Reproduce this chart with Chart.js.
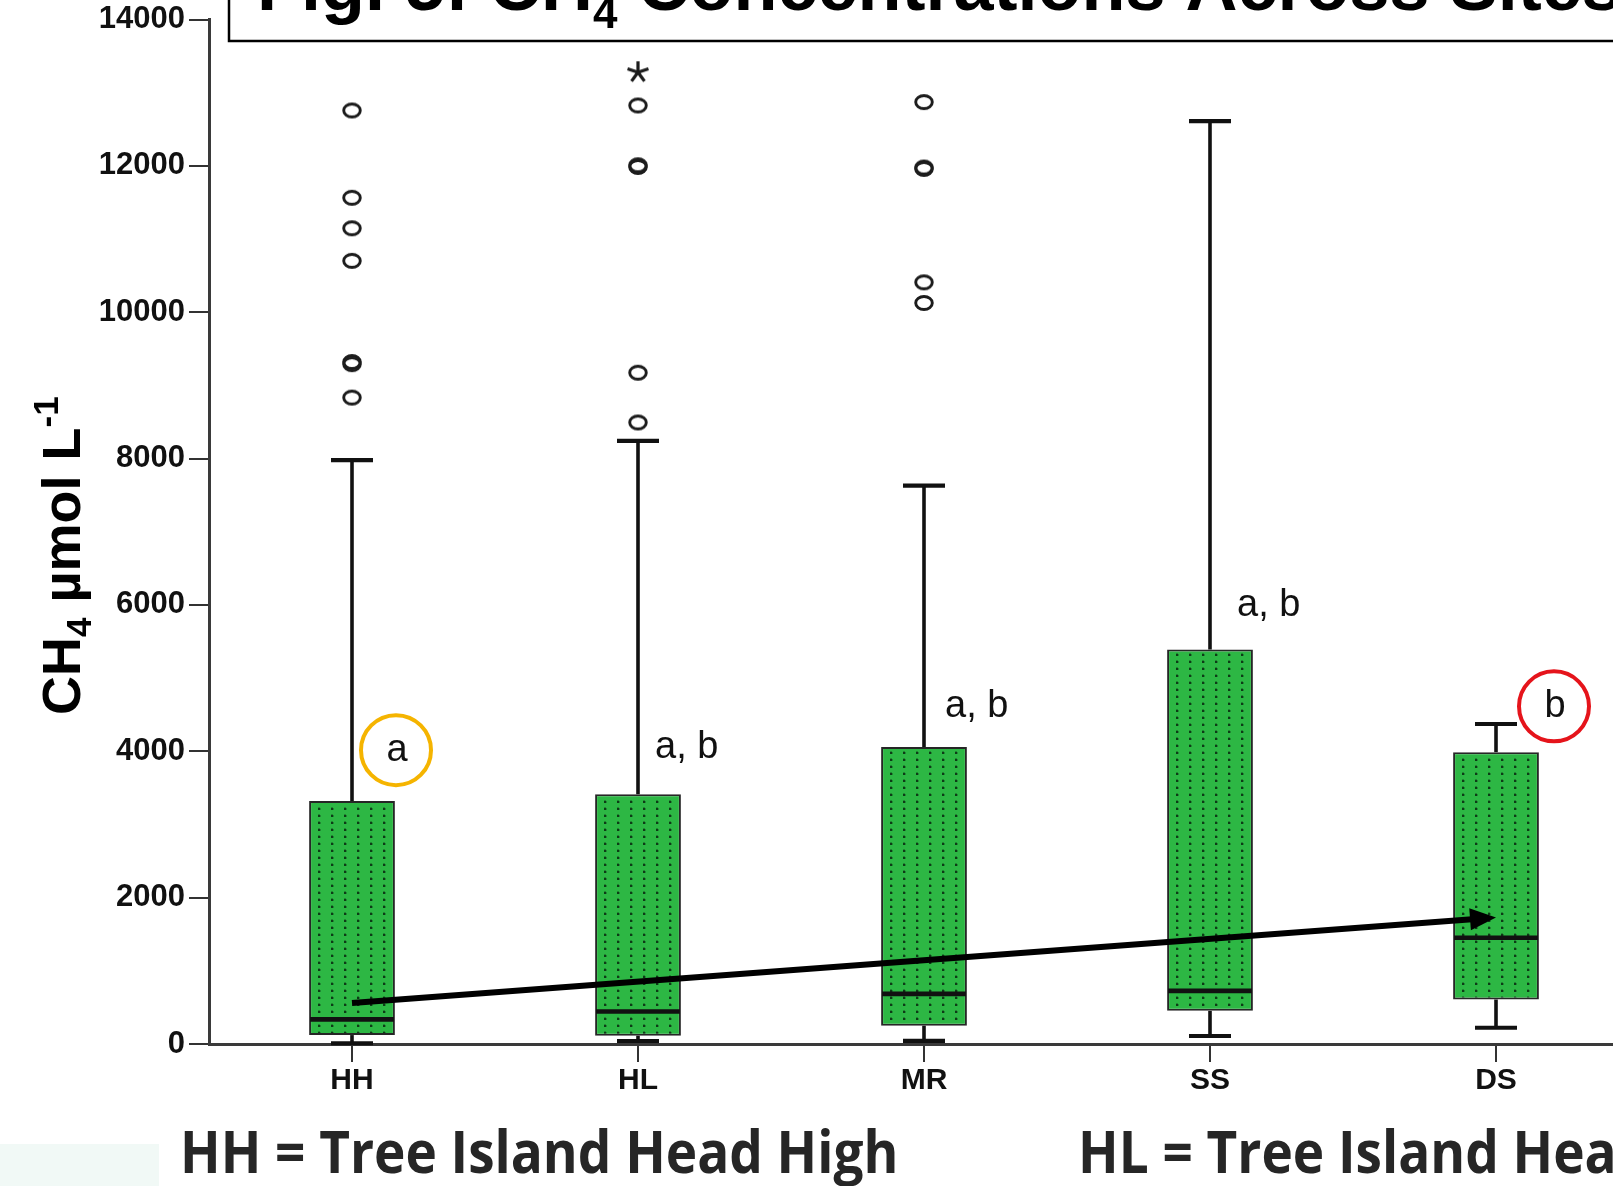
<!DOCTYPE html>
<html>
<head>
<meta charset="utf-8">
<script src="https://cdn.jsdelivr.net/npm/chart.js@4.4.1/dist/chart.umd.min.js"></script>
<style>
  html, body { margin: 0; padding: 0; background: #fff; overflow: hidden; width: 1613px; height: 1186px; }
  #wrap { position: relative; width: 1613px; height: 1186px; overflow: hidden; }
  #c { position: absolute; left: 0; top: 0; }
</style>
</head>
<body>
<div id="wrap"><canvas id="c" width="1661" height="1186"></canvas></div>
<script>
// CH4 concentration (µmol L-1) by site: box-plot summaries
const sites = ['HH', 'HL', 'MR', 'SS', 'DS'];
const whiskerLow  = [10, 41, 42, 109, 222];
const q1          = [122, 113, 250, 453, 608];
const median      = [336, 445, 685, 726, 1452];
const q3          = [3321, 3412, 4060, 5390, 3988];
const whiskerHigh = [7980, 8243, 7631, 12612, 4373];
// points beyond the whiskers (open circles) and extreme values (asterisk)
const outliers = [
  [12757, 11564, 11147, 10702, 9319, 9290, 8833],
  [12825, 12008, 11985, 9173, 8493],
  [12871, 11977, 11958, 10408, 10126],
  [],
  []
];
const extremes = [[], [13279], [], [], []];
const yTicks = [0, 2000, 4000, 6000, 8000, 10000, 12000, 14000];
// significance groups and the level they sit at
const groupLetters = ['a', 'a, b', 'a, b', 'a, b', 'b'];
const groupLetterAt = [4015, 4056, 4614, 5988, 4614];
// trend arrow from HH to DS
const trendStart = 560;
const trendEnd = 1730;

const FONT = "'Liberation Sans', Arial, sans-serif";
const canvas = document.getElementById('c');
const mainCtx = canvas.getContext('2d');

function dottedGreen() {
  const p = document.createElement('canvas');
  p.width = 13; p.height = 7;
  const g = p.getContext('2d');
  g.fillStyle = '#2db744';
  g.fillRect(0, 0, 13, 7);
  g.fillStyle = 'rgba(12,52,20,0.95)';
  g.fillRect(6, 3, 2, 2);
  g.fillStyle = 'rgba(12,52,20,0.35)';
  g.fillRect(6, 2, 2, 1);
  g.fillRect(8, 3, 1, 2);
  return mainCtx.createPattern(p, 'repeat');
}

function ringMarker() {
  const c = document.createElement('canvas');
  c.width = 24; c.height = 20;
  const g = c.getContext('2d');
  g.strokeStyle = '#1c1c1c';
  g.lineWidth = 2.9;
  g.beginPath();
  g.ellipse(12, 10, 8.3, 6.5, 0, 0, Math.PI * 2);
  g.stroke();
  return c;
}

function asteriskMarker() {
  const c = document.createElement('canvas');
  c.width = 26; c.height = 26;
  const g = c.getContext('2d');
  g.strokeStyle = '#1c1c1c';
  g.lineWidth = 3.2;
  g.lineCap = 'butt';
  for (let k = 0; k < 5; k++) {
    const a = -Math.PI / 2 + k * 2 * Math.PI / 5;
    g.beginPath();
    g.moveTo(13, 13);
    g.lineTo(13 + Math.cos(a) * 11, 13 + Math.sin(a) * 11);
    g.stroke();
  }
  return c;
}

const outlierPoints = [];
outliers.forEach((vals, i) => vals.forEach(v => outlierPoints.push({ x: sites[i], y: v })));
const extremePoints = [];
extremes.forEach((vals, i) => vals.forEach(v => extremePoints.push({ x: sites[i], y: v })));

function seg(ctx, x0, y0, x1, y1) {
  ctx.beginPath();
  ctx.moveTo(x0, y0);
  ctx.lineTo(x1, y1);
  ctx.stroke();
}

const backdrop = {
  id: 'backdrop',
  beforeDraw(chart) {
    const ctx = chart.ctx;
    ctx.save();
    ctx.fillStyle = '#ffffff';
    ctx.fillRect(0, 0, chart.width, chart.height);
    ctx.fillStyle = '#f1f9f6';
    ctx.fillRect(0, 1144, 159, 42);
    ctx.restore();
  }
};

const whiskers = {
  id: 'whiskers',
  afterDatasetsDraw(chart) {
    const { ctx, scales: { y } } = chart;
    const meta = chart.getDatasetMeta(0);
    ctx.save();
    ctx.strokeStyle = '#111';
    sites.forEach((s, i) => {
      const bar = meta.data[i];
      const cx = bar.x;
      const half = bar.width / 2;
      const cap = 21;
      ctx.lineWidth = 3.6;
      seg(ctx, cx, y.getPixelForValue(q3[i]), cx, y.getPixelForValue(whiskerHigh[i]));
      seg(ctx, cx, y.getPixelForValue(q1[i]), cx, y.getPixelForValue(whiskerLow[i]));
      ctx.lineWidth = 4.2;
      seg(ctx, cx - cap, y.getPixelForValue(whiskerHigh[i]), cx + cap, y.getPixelForValue(whiskerHigh[i]));
      seg(ctx, cx - cap, y.getPixelForValue(whiskerLow[i]), cx + cap, y.getPixelForValue(whiskerLow[i]));
      ctx.lineWidth = 4.6;
      seg(ctx, cx - half + 1, y.getPixelForValue(median[i]), cx + half - 1, y.getPixelForValue(median[i]));
    });
    ctx.restore();
  }
};

const annotations = {
  id: 'annotations',
  afterDraw(chart) {
    const { ctx, scales: { x, y } } = chart;
    ctx.save();

    // significance letters
    ctx.fillStyle = '#111';
    ctx.font = '38px ' + FONT;
    ctx.textBaseline = 'middle';
    const offsets = [45, 17, 21, 27, 59];
    groupLetters.forEach((txt, i) => {
      const cx = x.getPixelForValue(i);
      const cy = y.getPixelForValue(groupLetterAt[i]);
      if (i === 0 || i === sites.length - 1) {
        ctx.textAlign = 'center';
        ctx.fillText(txt, cx + offsets[i], cy);
        ctx.lineWidth = 4;
        ctx.strokeStyle = i === 0 ? '#f5b400' : '#e5141b';
        ctx.beginPath();
        ctx.arc(cx + offsets[i] - 1, cy, 35, 0, Math.PI * 2);
        ctx.stroke();
      } else {
        ctx.textAlign = 'left';
        ctx.fillText(txt, cx + offsets[i], cy);
      }
    });

    // trend arrow
    const x0 = x.getPixelForValue(0), y0 = y.getPixelForValue(trendStart);
    const x1 = x.getPixelForValue(sites.length - 1), y1 = y.getPixelForValue(trendEnd);
    const ang = Math.atan2(y1 - y0, x1 - x0);
    const headLen = 26, headHalf = 11;
    const bx = x1 - Math.cos(ang) * headLen, by = y1 - Math.sin(ang) * headLen;
    ctx.strokeStyle = '#000';
    ctx.lineWidth = 6;
    seg(ctx, x0, y0, bx + Math.cos(ang) * 2, by + Math.sin(ang) * 2);
    ctx.fillStyle = '#000';
    ctx.beginPath();
    ctx.moveTo(x1, y1);
    ctx.lineTo(bx - Math.sin(ang) * headHalf, by + Math.cos(ang) * headHalf);
    ctx.lineTo(bx + Math.sin(ang) * headHalf, by - Math.cos(ang) * headHalf);
    ctx.closePath();
    ctx.fill();

    // figure title in its frame
    ctx.lineWidth = 2.5;
    ctx.strokeStyle = '#000';
    ctx.strokeRect(229, -20, 1500, 61);
    ctx.fillStyle = '#000';
    ctx.textAlign = 'left';
    ctx.textBaseline = 'alphabetic';
    let tx = 257;
    ctx.font = 'bold 72px ' + FONT;
    ctx.fillText('Fig. 5: CH', tx, 10);
    tx += ctx.measureText('Fig. 5: CH').width;
    ctx.font = 'bold 44px ' + FONT;
    ctx.fillText('4', tx, 28);
    tx += ctx.measureText('4').width;
    ctx.font = 'bold 72px ' + FONT;
    ctx.fillText(' Concentrations Across Sites', tx, 10);

    // y-axis title
    ctx.save();
    ctx.translate(80, 715);
    ctx.rotate(-Math.PI / 2);
    ctx.fillStyle = '#000';
    let ax = 0;
    ctx.font = 'bold 54px ' + FONT;
    ctx.fillText('CH', ax, 0); ax += ctx.measureText('CH').width;
    ctx.font = 'bold 35px ' + FONT;
    ctx.fillText('4', ax, 11); ax += ctx.measureText('4').width;
    ctx.font = 'bold 54px ' + FONT;
    ctx.fillText(' \u00b5mol L', ax, 0); ax += ctx.measureText(' \u00b5mol L').width;
    ctx.font = 'bold 35px ' + FONT;
    ctx.fillText('-1', ax, -22);
    ctx.restore();

    // site key beneath the chart
    ctx.fillStyle = '#262626';
    ctx.font = "bold 59px 'Open Sans', sans-serif";
    [['HH = Tree Island Head High', 180], ['HL = Tree Island Head Low', 1078]].forEach(([t, px]) => {
      ctx.save();
      ctx.translate(px, 1173);
      ctx.scale(0.9, 1);
      ctx.fillText(t, 0, 0);
      ctx.restore();
    });

    ctx.restore();
  }
};

new Chart(canvas, {
  data: {
    labels: sites,
    datasets: [
      {
        type: 'bar',
        data: sites.map((s, i) => [q1[i], q3[i]]),
        backgroundColor: dottedGreen(),
        borderColor: '#262626',
        borderWidth: 2,
        borderSkipped: false,
        barPercentage: 0.3,
        categoryPercentage: 1,
        order: 2
      },
      {
        type: 'line',
        data: outlierPoints,
        showLine: false,
        pointStyle: ringMarker(),
        pointRadius: 10,
        order: 1
      },
      {
        type: 'line',
        data: extremePoints,
        showLine: false,
        pointStyle: asteriskMarker(),
        pointRadius: 11,
        order: 1
      }
    ]
  },
  options: {
    responsive: false,
    animation: false,
    events: [],
    layout: { padding: { left: 0, top: 15, right: 22, bottom: 0 } },
    plugins: { legend: { display: false }, tooltip: { enabled: false } },
    scales: {
      x: {
        type: 'category',
        offset: true,
        grid: { drawOnChartArea: false, drawTicks: true, tickLength: 18, offset: false, color: '#333', lineWidth: 2 },
        border: { display: true, color: '#3a3a3a', width: 3 },
        ticks: { color: '#111', font: { family: FONT, size: 30, weight: 'bold', lineHeight: 1 }, padding: 4, maxRotation: 0, autoSkip: false },
        afterFit(s) { s.height = 142; }
      },
      y: {
        type: 'linear',
        min: 0,
        max: 14000,
        afterBuildTicks(s) { s.ticks = yTicks.map(v => ({ value: v })); },
        ticks: { color: '#111', font: { family: FONT, size: 31, weight: 'bold', lineHeight: 1 }, padding: 4, callback: v => String(v) },
        grid: { drawOnChartArea: false, drawTicks: true, tickLength: 20, color: '#333', lineWidth: 2 },
        border: { display: true, color: '#3a3a3a', width: 3 },
        afterFit(s) { s.width = 209; }
      }
    }
  },
  plugins: [backdrop, whiskers, annotations]
});
</script>
</body>
</html>
